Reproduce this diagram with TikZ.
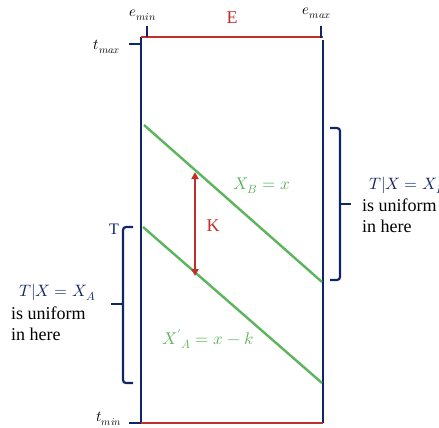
\documentclass[tikz,border=0pt]{standalone}
\usepackage{unicode-math}
\setmainfont{Liberation Serif}
\setmathfont{Latin Modern Math}
\usetikzlibrary{arrows.meta}
\definecolor{navy}{RGB}{16,36,104}
\definecolor{myred}{RGB}{192,48,42}
\definecolor{mygreen}{RGB}{92,180,92}
\tikzset{
  axis/.style={navy,line width=2.6pt},
  redline/.style={myred,line width=2.6pt},
  greenline/.style={mygreen,line width=2.4pt},
  brk/.style={navy,line width=2.2pt,rounded corners=3pt},
  lbl/.style={inner sep=0pt,font=\fontsize{16}{19}\selectfont},
  small/.style={inner sep=0pt,font=\fontsize{15}{17}\selectfont}
}
\begin{document}
\begin{tikzpicture}[x=1pt,y=-1pt]
\useasboundingbox (0,0) rectangle (439,428);
\clip (0,0) rectangle (439,428);
% box corners
\coordinate (tl) at (141,37);
\coordinate (tr) at (323,37);
\coordinate (bl) at (141,423);
\coordinate (br) at (323,423);
\draw[axis] (tl) -- (bl);
\draw[axis] (323,40) -- (br);
\draw[redline] (tl) -- (tr);
\draw[redline] (bl) -- (br);
% ticks
\coordinate (emint) at (147,26); \coordinate (eminb) at (147,37);
\coordinate (emaxt) at (321,26); \coordinate (emaxb) at (321,38);
\coordinate (tmaxl) at (129,44); \coordinate (tmaxr) at (141,44);
\coordinate (tminl) at (129,423); \coordinate (tminr) at (141,423);
\draw[axis,line width=2.2pt] (emint) -- (eminb);
\draw[axis,line width=2.2pt] (emaxt) -- (emaxb);
\draw[axis,line width=2.2pt] (tmaxl) -- (tmaxr);
\draw[axis,line width=2.2pt] (tminl) -- (tminr);
% labels
\node[small] (emin) at (143,15) {$e_{min}$};
\node[small] (emax) at (317,13) {$e_{max}$};
\node[small] (tmax) at (107,47) {$t_{max}$};
\node[small] (tmin) at (109,419) {$t_{min}$};
\node[lbl,myred,font=\fontsize{18}{20}\selectfont] (E) at (232,18) {E};
\node[lbl,navy] (T) at (114,229) {T};
% green lines
\coordinate (b1) at (144,125); \coordinate (b2) at (322,282);
\coordinate (a1) at (143,227); \coordinate (a2) at (322,383);
\draw[greenline] (b1) -- (b2);
\draw[greenline] (a1) -- (a2);
\node[lbl,mygreen,font=\fontsize{17}{20}\selectfont] (XB) at (262,186) {$X_B = x$};
\node[lbl,mygreen,font=\fontsize{17}{20}\selectfont] (XA) at (208,339) {$X'{}_A = x - k$};
% K arrow
\coordinate (k1) at (195,172); \coordinate (k2) at (195,276);
\draw[myred,line width=2pt,{Triangle[length=7pt,width=7pt]}-{Triangle[length=7pt,width=7pt]}] (k1) -- (k2);
\node[lbl,myred,font=\fontsize{18}{20}\selectfont] (K) at (213,226) {K};
% left bracket
\coordinate (lb1) at (133,227); \coordinate (lb2) at (123,227);
\coordinate (lbm) at (123,304); \coordinate (lbt) at (111,304);
\coordinate (lb3) at (123,383); \coordinate (lb4) at (133,383);
\draw[brk] (lb1) -- (lb2) -- (lb3) -- (lb4);
\draw[navy,line width=2.2pt] (lbm) -- (lbt);
% right bracket
\coordinate (rb1) at (330,128); \coordinate (rb2) at (340,128);
\coordinate (rbm) at (340,204); \coordinate (rbt) at (351,204);
\coordinate (rb3) at (340,280); \coordinate (rb4) at (330,280);
\draw[brk] (rb1) -- (rb2) -- (rb3) -- (rb4);
\draw[navy,line width=2.2pt] (rbm) -- (rbt);
% texts
\node[lbl,navy,anchor=west,font=\fontsize{16.5}{20}\selectfont] (LA) at (19,292) {$T|X = X_A$};
\node[lbl,anchor=west,font=\fontsize{18}{20}\selectfont] (LB) at (11,313) {is uniform};
\node[lbl,anchor=west,font=\fontsize{18}{20}\selectfont] (LC) at (11,334) {in here};
\node[lbl,navy,anchor=west,font=\fontsize{16.5}{20}\selectfont] (RA) at (369,185) {$T|X = X_B$};
\node[lbl,anchor=west,font=\fontsize{18}{20}\selectfont] (RB) at (362,205) {is uniform};
\node[lbl,anchor=west,font=\fontsize{18}{20}\selectfont] (RC) at (362,226) {in here};
\end{tikzpicture}
\end{document}
